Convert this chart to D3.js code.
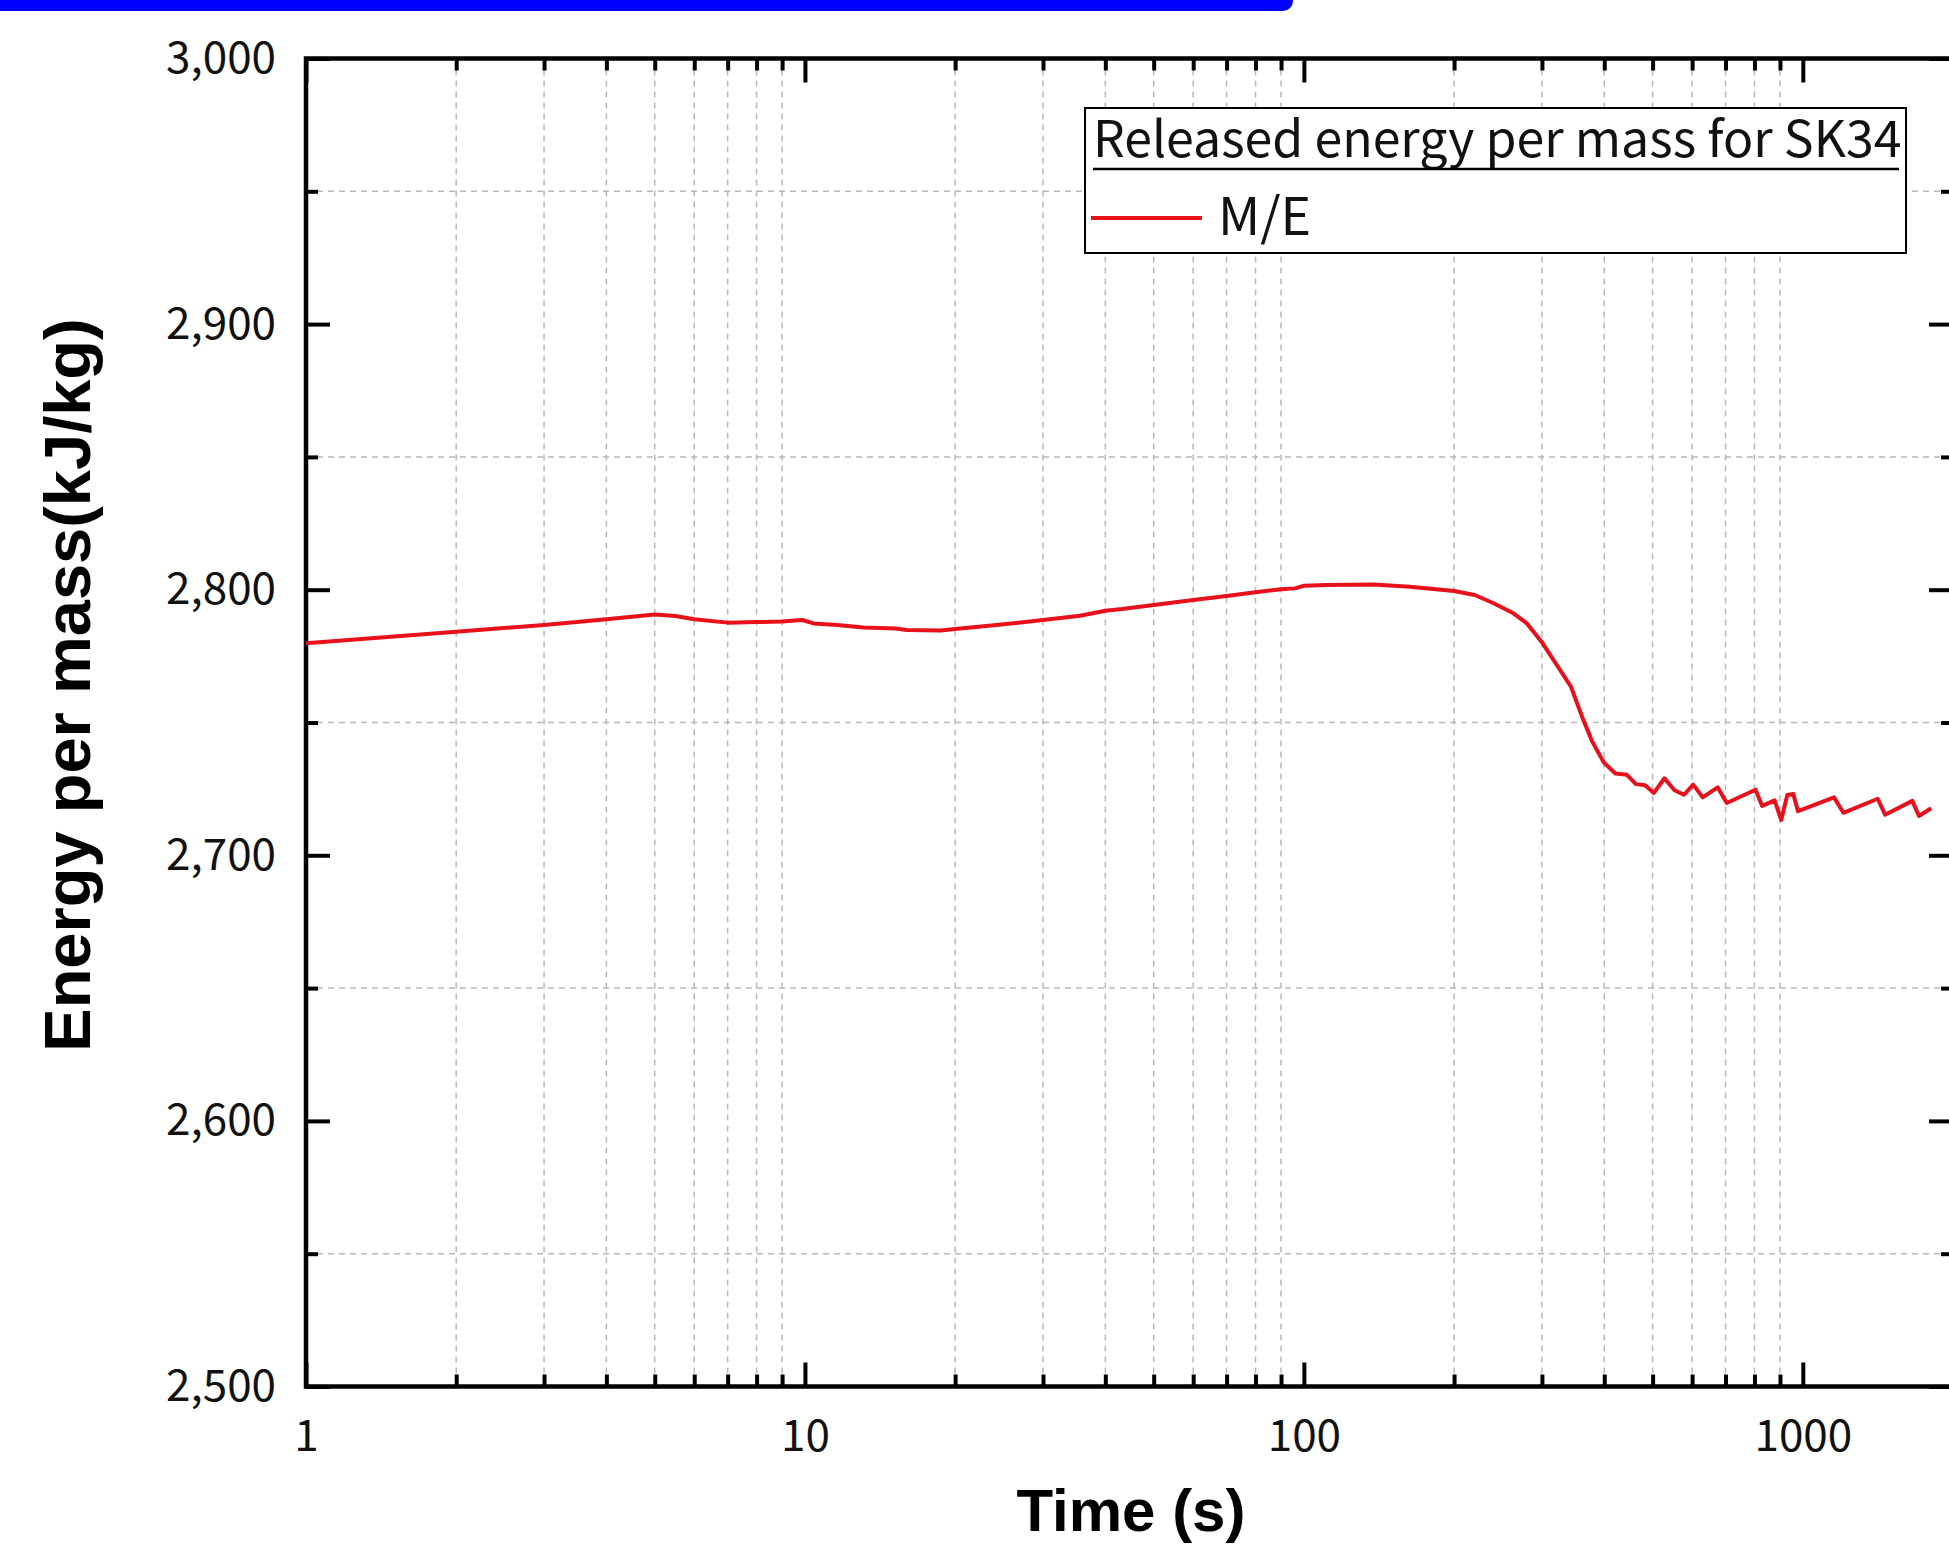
<!DOCTYPE html>
<html>
<head>
<meta charset="utf-8">
<script src="https://cdn.jsdelivr.net/npm/d3@7"></script>
<style>
  body { margin: 0; background: #fff; overflow: hidden; }
  svg { display: block; }
</style>
</head>
<body>
<svg class="chart"></svg>
<script>
// Values
const timeValues = [
  1, 2, 3, 4, 5, 5.5, 6, 7, 8, 9, 9.85, 10, 10.4, 11.6, 13.1, 15.2, 16, 18.7, 20,
  24.2, 30, 35.6, 40, 43.2, 50, 60, 70, 80, 90, 96, 100, 111, 138, 163, 200, 220,
  240, 263, 280, 301, 323, 343, 361, 378, 399, 421, 444, 463, 483, 503, 528, 553,
  578, 603, 630, 675, 704, 804, 829, 878, 905, 931, 957, 978, 1155, 1206, 1413,
  1462, 1658, 1709, 1808
];
const energyValues = [
  2779.8, 2784.2, 2786.7, 2788.9, 2790.7, 2790.1, 2788.9, 2787.6, 2787.8, 2788.0,
  2788.6, 2788.3, 2787.3, 2786.7, 2785.8, 2785.4, 2784.8, 2784.6, 2785.2,
  2786.7, 2788.6, 2790.2, 2792.1, 2792.7, 2794.2, 2796.1, 2797.6, 2799.0, 2800.2,
  2800.5, 2801.5, 2801.8, 2802.0, 2801.1, 2799.5, 2798.0,
  2794.9, 2791.1, 2787.3, 2779.8, 2771.0, 2763.5, 2752.2, 2743.0, 2735.0, 2730.8,
  2730.3, 2726.8, 2726.4, 2723.5, 2729.0, 2724.5,
  2722.8, 2726.6, 2721.8, 2725.6, 2719.7, 2724.7, 2718.6, 2720.7, 2713.3, 2722.7,
  2723.1, 2716.6, 2721.8, 2716.0, 2721.3,
  2715.3, 2720.5, 2714.8, 2717.7
];
const xMajorTicks = [1, 10, 100, 1000];
const xMinorTicks = [2, 3, 4, 5, 6, 7, 8, 9, 20, 30, 40, 50, 60, 70, 80, 90,
  200, 300, 400, 500, 600, 700, 800, 900];
const yMajorTicks = [2500, 2600, 2700, 2800, 2900, 3000];
const yMinorTicks = [2550, 2650, 2750, 2850, 2950];
const seriesName = "M/E";
const legendTitle = "Released energy per mass for SK34";
const xTitle = "Time (s)";
const yTitle = "Energy per mass(kJ/kg)";

// Chart dimensions
const totalWidth = 1949, totalHeight = 1549;
const margin = { top: 58.5, right: -4, bottom: 162.5, left: 306 };
const width = totalWidth - margin.left - margin.right;
const height = totalHeight - margin.top - margin.bottom;
const lineRed = "#e8101a";
const labelFont = "'Noto Sans CJK KR', 'Noto Sans', sans-serif";
const titleFont = "'Liberation Sans', Arial, sans-serif";

const svg = d3.select(".chart").attr("width", totalWidth).attr("height", totalHeight);

// blue strip at the top of the page
svg.append("rect")
  .attr("x", -20).attr("y", -14)
  .attr("width", 1313).attr("height", 25)
  .attr("rx", 10)
  .attr("fill", "#0000ff");

const g = svg.append("g").attr("transform", `translate(${margin.left},${margin.top})`);

const x = d3.scaleLog().domain([1, 2000]).range([0, width]);
const y = d3.scaleLinear().domain([2500, 3000]).range([height, 0]);

// minor grid (dashed)
g.append("g").selectAll("line").data(xMinorTicks).join("line")
  .attr("x1", (d) => x(d)).attr("x2", (d) => x(d))
  .attr("y1", 0).attr("y2", height)
  .attr("stroke", "#b8b8b8").attr("stroke-width", 1.5)
  .attr("stroke-dasharray", "6,5");
g.append("g").selectAll("line").data(yMinorTicks).join("line")
  .attr("x1", 0).attr("x2", width)
  .attr("y1", (d) => y(d)).attr("y2", (d) => y(d))
  .attr("stroke", "#b8b8b8").attr("stroke-width", 1.5)
  .attr("stroke-dasharray", "6,5");

// axes: ticks point inward
function styleAxis(sel) {
  sel.select(".domain").remove();
  sel.selectAll(".tick line").attr("stroke", "#000").attr("stroke-width", 4);
  sel.selectAll(".tick text")
    .attr("fill", "#111")
    .style("font-family", labelFont)
    .style("font-size", "44px");
}

g.append("g").attr("transform", `translate(0,${height})`)
  .call(d3.axisBottom(x).tickValues(xMajorTicks).tickSize(-24).tickSizeOuter(0)
    .tickPadding(33).tickFormat(d3.format("d")))
  .call(styleAxis);
g.append("g").attr("transform", `translate(0,${height})`)
  .call(d3.axisBottom(x).tickValues(xMinorTicks).tickSize(-12).tickFormat(""))
  .call(styleAxis);
g.append("g")
  .call(d3.axisTop(x).tickValues(xMajorTicks).tickSize(-24).tickFormat(""))
  .call(styleAxis);
g.append("g")
  .call(d3.axisTop(x).tickValues(xMinorTicks).tickSize(-12).tickFormat(""))
  .call(styleAxis);

g.append("g")
  .call(d3.axisLeft(y).tickValues(yMajorTicks).tickSize(-24).tickSizeOuter(0)
    .tickPadding(30).tickFormat(d3.format(",")))
  .call(styleAxis);
g.append("g")
  .call(d3.axisLeft(y).tickValues(yMinorTicks).tickSize(-12).tickFormat(""))
  .call(styleAxis);
g.append("g").attr("transform", `translate(${width},0)`)
  .call(d3.axisRight(y).tickValues(yMajorTicks).tickSize(-24).tickFormat(""))
  .call(styleAxis);
g.append("g").attr("transform", `translate(${width},0)`)
  .call(d3.axisRight(y).tickValues(yMinorTicks).tickSize(-12).tickFormat(""))
  .call(styleAxis);

// frame
g.append("rect")
  .attr("width", width).attr("height", height)
  .attr("fill", "none").attr("stroke", "#000").attr("stroke-width", 4.5);

// the series
const points = timeValues.map((t, i) => ({ t, e: energyValues[i] }));
const line = d3.line().x((d) => x(d.t)).y((d) => y(d.e));
g.append("path")
  .datum(points)
  .attr("d", line)
  .attr("fill", "none")
  .attr("stroke", lineRed)
  .attr("stroke-width", 4)
  .attr("stroke-linejoin", "round");

// legend
const legend = svg.append("g").attr("transform", "translate(1085,108)");
legend.append("rect")
  .attr("width", 821).attr("height", 145)
  .attr("fill", "#fff").attr("stroke", "#000").attr("stroke-width", 2);
legend.append("text")
  .attr("x", 8).attr("y", 49)
  .style("font-family", labelFont).style("font-size", "50px")
  .attr("fill", "#111")
  .text(legendTitle);
legend.append("line")
  .attr("x1", 8).attr("x2", 814).attr("y1", 61).attr("y2", 61)
  .attr("stroke", "#000").attr("stroke-width", 2.5);
legend.append("line")
  .attr("x1", 6).attr("x2", 117).attr("y1", 110).attr("y2", 110)
  .attr("stroke", lineRed).attr("stroke-width", 4);
legend.append("text")
  .attr("x", 133).attr("y", 127)
  .style("font-family", labelFont).style("font-size", "52px")
  .attr("fill", "#111")
  .text(seriesName);

// axis titles
svg.append("text")
  .attr("x", 1131).attr("y", 1531)
  .attr("text-anchor", "middle")
  .style("font-family", titleFont).style("font-weight", "bold").style("font-size", "60px")
  .text(xTitle);
svg.append("text")
  .attr("transform", "translate(90,685) rotate(-90)")
  .attr("text-anchor", "middle")
  .style("font-family", titleFont).style("font-weight", "bold").style("font-size", "65px")
  .text(yTitle);
</script>
</body>
</html>
